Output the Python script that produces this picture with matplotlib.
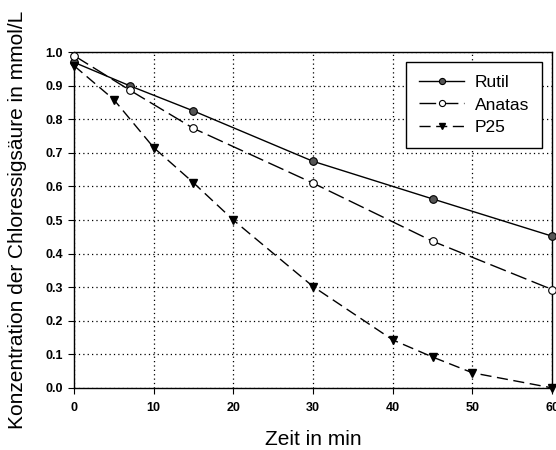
import matplotlib
matplotlib.use("Agg")
import matplotlib.pyplot as plt

# Abbau von Chloressigsäure an drei TiO2-Sorten
zeit_rutil = [0, 7, 15, 30, 45, 60]
rutil = [0.97, 0.90, 0.825, 0.675, 0.563, 0.452]

zeit_anatas = [0, 7, 15, 30, 45, 60]
anatas = [0.99, 0.887, 0.773, 0.61, 0.437, 0.293]

zeit_p25 = [0, 5, 10, 15, 20, 30, 40, 45, 50, 60]
p25 = [0.96, 0.859, 0.716, 0.611, 0.50, 0.302, 0.143, 0.092, 0.045, 0.0]

xticks = [0, 10, 20, 30, 40, 50, 60]
yticks = [0.0, 0.1, 0.2, 0.3, 0.4, 0.5, 0.6, 0.7, 0.8, 0.9, 1.0]

plt.rcParams["font.family"] = ["Liberation Sans", "DejaVu Sans"]

fig = plt.figure(figsize=(5.56, 4.5), dpi=100)
ax = fig.add_axes([0.133, 0.138, 0.860, 0.746])

ax.plot(zeit_rutil, rutil, "-", color="black", lw=1.0,
        marker="o", ms=5.5, mfc="#555555", mec="black", mew=0.8,
        label="Rutil", clip_on=False, zorder=3)
ax.plot(zeit_anatas, anatas, color="black", lw=1.0, dashes=(12, 4),
        marker="o", ms=5.5, mfc="white", mec="black", mew=0.8,
        label="Anatas", clip_on=False, zorder=3)
ax.plot(zeit_p25, p25, color="black", lw=1.0, dashes=(8, 4),
        marker="v", ms=6, mfc="black", mec="black",
        label="P25", clip_on=False, zorder=3)

ax.set_xlim(0, 60)
ax.set_ylim(0, 1.0)
ax.set_xticks(xticks)
ax.set_yticks(yticks)
ax.set_xticklabels([str(t) for t in xticks], fontweight="bold", fontsize=9)
ax.set_yticklabels([f"{t:.1f}" for t in yticks], fontweight="bold",
                   fontsize=9)
ax.tick_params(direction="out", length=4, width=0.8)
ax.tick_params(axis="x", pad=6.5)
ax.tick_params(axis="y", pad=4)

ax.grid(True, color="black", linestyle=(0, (1, 2.5)), linewidth=0.9)

for side in ax.spines:
    ax.spines[side].set_linewidth(1.0)

ax.set_xlabel("Zeit in min", fontsize=15)
ax.set_ylabel("Konzentration der Chloressigsäure in mmol/L", fontsize=15)
ax.xaxis.set_label_coords(0.5, -0.125)
ax.yaxis.set_label_coords(-0.098, 0.5)

leg = ax.legend(loc="upper right", bbox_to_anchor=(0.979, 0.970),
                borderaxespad=0, fontsize=12.5, frameon=True,
                fancybox=False, edgecolor="black", handlelength=2.6,
                handletextpad=0.6, borderpad=0.75, labelspacing=0.4,
                markerscale=0.8)
leg.get_frame().set_linewidth(1.0)
leg.get_frame().set_alpha(1)

fig.savefig("out.png", dpi=100)
